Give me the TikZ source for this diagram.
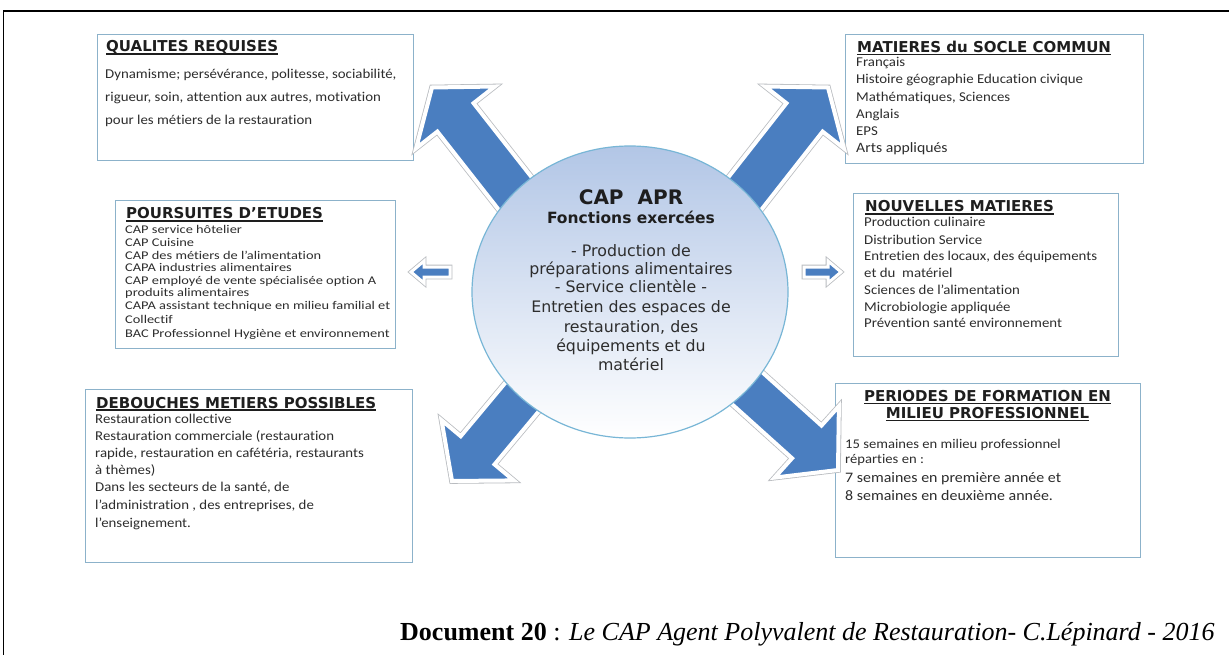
\documentclass[tikz,border=0pt]{standalone}
\usepackage{fontspec}
\setmainfont[Ligatures=NoCommon, FakeStretch=1.1]{Carlito}
\newfontfamily\pfont[Ligatures=NoCommon, FakeStretch=1.22]{Carlito}
\newfontfamily\vfont{DejaVu Sans}
\newfontfamily\tfont{Liberation Serif}
\usetikzlibrary{calc,shapes.geometric}

\definecolor{arrblue}{RGB}{74,126,192}
\definecolor{arrgray}{RGB}{185,188,192}
\definecolor{boxline}{RGB}{140,178,202}
\definecolor{circline}{RGB}{120,182,214}
\definecolor{circtop}{RGB}{178,198,230}
\definecolor{circmid}{RGB}{220,230,243}
\definecolor{txt}{RGB}{45,45,45}
\definecolor{ttxt}{RGB}{30,30,30}

\newcommand{\ulx}[1]{\setbox0=\hbox{#1}\rlap{\rule[-2.6pt]{\wd0}{1.3pt}}\box0}

\newcommand{\blockarrow}[6]{%
  \coordinate (bah) at ($(#2)!#5!(#1)$);
  \coordinate (bs1) at ($(#1)!#3!90:(#2)$);
  \coordinate (bs2) at ($(#1)!#3!-90:(#2)$);
  \coordinate (bh1) at ($(bah)!#3!90:(#2)$);
  \coordinate (bh2) at ($(bah)!#3!-90:(#2)$);
  \coordinate (bb1) at ($(bah)!#4!90:(#2)$);
  \coordinate (bb2) at ($(bah)!#4!-90:(#2)$);
  \draw[draw=arrgray, line width=#6pt+1.6pt, line join=miter, fill=arrgray]
    (bs1) -- (bh1) -- (bb1) -- (#2) -- (bb2) -- (bh2) -- (bs2) -- cycle;
  \draw[draw=white, line width=#6pt, line join=miter, fill=arrblue]
    (bs1) -- (bh1) -- (bb1) -- (#2) -- (bb2) -- (bh2) -- (bs2) -- cycle;
}

\begin{document}
\begin{tikzpicture}[x=1pt,y=-1pt,
  box/.style={draw=boxline, line width=1.3pt, inner sep=0pt, anchor=north west},
  ttl/.style={inner sep=0pt, anchor=base west, text=ttxt, font=\vfont\bfseries\fontsize{15}{18}\selectfont},
  bt/.style={inner sep=0pt, anchor=base west, text=txt, font=\fontsize{13.5}{16}\selectfont},
  pt/.style={inner sep=0pt, anchor=base west, text=txt, font=\pfont\fontsize{11.8}{14}\selectfont},
  ct/.style={inner sep=0pt, anchor=base, text=txt, font=\vfont\fontsize{15.8}{19}\selectfont},
]
\useasboundingbox (0,0) rectangle (1229,655);
\fill[white] (0,0) rectangle (1229,655);
\clip (0,0) rectangle (1229,655);

% outer frame
\draw[line width=1.6pt, black] (3.5,11) rectangle (1234,662);

% ---------- boxes ----------
\node[box, minimum width=316pt, minimum height=126pt] (qbox) at (97,34) {};
\node[ttl] (qtitle) at (106,52) {\ulx{QUALITES REQUISES}};
\foreach \yy/\txt in {78.5/{Dynamisme; persévérance, politesse, sociabilité,},
                      101.5/{rigueur, soin, attention aux autres, motivation},
                      124.5/{pour les métiers de la restauration}}
  \node[bt] (q\yy) at (105,\yy) {\txt};

\node[box, minimum width=298pt, minimum height=129pt] (mbox) at (845,34) {};
\node[ttl] (mtitle) at (857,52.5) {\ulx{MATIERES du SOCLE COMMUN}};
\foreach \yy/\txt in {67/{Français},
                      84/{Histoire géographie Education civique},
                      101.5/{Mathématiques, Sciences},
                      118.5/{Anglais},
                      135.5/{EPS}}
  \node[bt] (m\yy) at (856,\yy) {\txt};
\node[bt, font=\fontsize{14.3}{16}\selectfont] (marts) at (856,153) {Arts appliqués};

\node[box, minimum width=280pt, minimum height=148pt] (pbox) at (115,200) {};
\node[ttl] (ptitle) at (126,219) {\ulx{POURSUITES D’ETUDES}};
\foreach \yy/\txt in {233.5/{CAP service hôtelier},
                      247/{CAP Cuisine},
                      259.5/{CAP des métiers de l’alimentation},
                      272/{CAPA industries alimentaires},
                      284/{CAP employé de vente spécialisée option A},
                      296.5/{produits alimentaires},
                      309.5/{CAPA assistant technique en milieu familial et},
                      323/{Collectif},
                      337/{BAC Professionnel Hygiène et environnement}}
  \node[pt] (p\yy) at (125,\yy) {\txt};

\node[box, minimum width=265pt, minimum height=163pt] (nbox) at (853,193) {};
\node[ttl] (ntitle) at (865,212) {\ulx{NOUVELLES MATIERES}};
\foreach \yy/\txt in {227/{Production culinaire},
                      244/{Distribution Service},
                      260.5/{Entretien des locaux, des équipements},
                      277.5/{et du\ \ matériel},
                      294/{Sciences de l’alimentation},
                      311/{Microbiologie appliquée},
                      327/{Prévention santé environnement}}
  \node[bt] (n\yy) at (864,\yy) {\txt};

\node[box, minimum width=327pt, minimum height=173pt] (dbox) at (85,389) {};
\node[ttl] (dtitle) at (96,408) {\ulx{DEBOUCHES METIERS POSSIBLES}};
\foreach \yy/\txt in {423/{Restauration collective},
                      440/{Restauration commerciale (restauration},
                      457/{rapide, restauration en cafétéria, restaurants},
                      474/{à thèmes)},
                      491/{Dans les secteurs de la santé, de},
                      509/{l’administration , des entreprises, de},
                      527/{l’enseignement.}}
  \node[bt] (d\yy) at (95,\yy) {\txt};

\node[box, minimum width=305pt, minimum height=174pt] (rbox) at (835,383) {};
\node[ttl, anchor=base] (rtitle1) at (987.5,401.5) {\ulx{PERIODES DE FORMATION EN}};
\node[ttl, anchor=base] (rtitle2) at (987.5,418.5) {\ulx{MILIEU PROFESSIONNEL}};
\node[bt, font=\fontsize{13.3}{16}\selectfont] (r1) at (845,448) {15 semaines en milieu professionnel};
\node[bt, font=\fontsize{13.3}{16}\selectfont] (r2) at (845,463.5) {réparties en :};
\node[bt, font=\fontsize{14.5}{17}\selectfont] (r3) at (845,482) {7 semaines en première année et};
\node[bt, font=\fontsize{14.5}{17}\selectfont] (r4) at (845,500) {8 semaines en deuxième année.};

% ---------- arrows ----------
\coordinate (tlS) at (536,220);   \coordinate (tlT) at (432,87.5);
\coordinate (trS) at (724,220);   \coordinate (trT) at (828,87.5);
\coordinate (blS) at (548,366);   \coordinate (blT) at (452,481);
\coordinate (brS) at (718,362);   \coordinate (brT) at (838,470);
\coordinate (lS) at (450,272);    \coordinate (lT) at (411,272);
\coordinate (rS) at (804,272);    \coordinate (rT) at (841,272);
\blockarrow{tlS}{tlT}{23pt}{50pt}{38pt}{4}
\blockarrow{trS}{trT}{23pt}{50pt}{38pt}{4}
\blockarrow{blS}{blT}{22pt}{47pt}{40pt}{4}
\blockarrow{brS}{brT}{22pt}{48pt}{42pt}{4}
\blockarrow{lS}{lT}{5pt}{11pt}{13pt}{3}
\blockarrow{rS}{rT}{5pt}{11pt}{13pt}{3}

% ---------- central circle ----------
\node[ellipse, draw=circline, line width=1.2pt, top color=circtop, middle color=circmid,
      bottom color=white, minimum width=316pt, minimum height=292pt, inner sep=0pt] (circ) at (630,292) {};
\node[ct, text=ttxt, font=\vfont\bfseries\fontsize{20}{24}\selectfont] (ctitle) at (631,205) {CAP\hspace{14pt}APR};
\node[ct, text=ttxt, font=\vfont\bfseries\fontsize{15.5}{18}\selectfont] (csub) at (631,224) {Fonctions exercées};
\foreach \yy/\txt in {256/{- Production de},
                      274/{préparations alimentaires},
                      292/{- Service clientèle -},
                      312/{Entretien des espaces de},
                      332/{restauration, des},
                      351.5/{équipements et du},
                      370.5/{matériel}}
  \node[ct] (c\yy) at (631,\yy) {\txt};

% ---------- caption ----------
\node[inner sep=0pt, anchor=base west, font=\tfont\fontsize{26}{30}\selectfont] (caption) at (400,640)
  {\textbf{Document 20} : \textit{Le CAP Agent Polyvalent de Restauration- C.Lépinard - 2016}};
\end{tikzpicture}
\end{document}
